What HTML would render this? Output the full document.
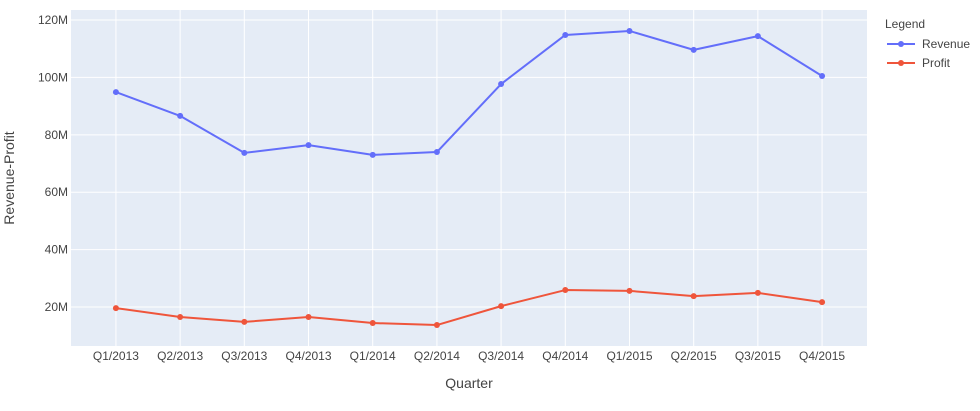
<!DOCTYPE html>
<html><head><meta charset="utf-8"><style>
body{margin:0;background:#fff;}
svg{font-family:"Liberation Sans",Arial,sans-serif;}
</style></head><body>
<svg id="chart" width="980" height="406"></svg>
<script>
const categories=["Q1/2013","Q2/2013","Q3/2013","Q4/2013","Q1/2014","Q2/2014","Q3/2014","Q4/2014","Q1/2015","Q2/2015","Q3/2015","Q4/2015"];
const revenue=[94.9,86.6,73.7,76.4,73.0,74.0,97.7,114.8,116.2,109.6,114.4,100.5];
const profit=[19.6,16.5,14.8,16.5,14.4,13.7,20.3,25.9,25.6,23.8,24.9,21.7];
const yTicks=[20,40,60,80,100,120];
const yTickLabels=["20M","40M","60M","80M","100M","120M"];

const NS="http://www.w3.org/2000/svg";
const svg=document.getElementById('chart');
const L=71,R=867,T=10,B=346;
const yMin=6.4,yMax=123.5;
function x(i){return L+(i+0.7)*(R-L)/(categories.length-1+1.4);}
function y(v){return B-(v-yMin)*(B-T)/(yMax-yMin);}
function el(tag,attrs,parent){const e=document.createElementNS(NS,tag);for(const k in attrs)e.setAttribute(k,attrs[k]);(parent||svg).appendChild(e);return e;}

const bg=el('rect',{x:L,y:T,width:R-L,height:B-T,fill:'#e5ecf6'});



yTicks.forEach((t,i)=>{
  const g=el('line',{x1:L,x2:R,y1:y(t),y2:y(t),stroke:'#fff','stroke-width':1});
  
  
  const tx=el('text',{x:L-3,y:y(t)+4,'text-anchor':'end','font-size':12,fill:'#444'});
  tx.textContent=yTickLabels[i];
  
  
});
categories.forEach((c,i)=>{
  const g=el('line',{x1:x(i),x2:x(i),y1:T,y2:B,stroke:'#fff','stroke-width':1});
  
  
  const tx=el('text',{x:x(i),y:B+14,'text-anchor':'middle','font-size':12,fill:'#444'});
  tx.textContent=c;
  
  
});

function series(vals,color,name){
  const pts=vals.map((v,i)=>x(i)+','+y(v)).join(' ');
  const pl=el('polyline',{points:pts,fill:'none',stroke:color,'stroke-width':2,'stroke-linejoin':'round'});
  
  
  vals.forEach((v,i)=>{
    const c=el('circle',{cx:x(i),cy:y(v),r:3,fill:color});
    
    
  });
}
series(revenue,'#636efa','revenue');
series(profit,'#ef553b','profit');

const xt=el('text',{x:(L+R)/2,y:388,'text-anchor':'middle','font-size':14,fill:'#444'});
xt.textContent='Quarter';


const yt=el('text',{x:0,y:0,'text-anchor':'middle','font-size':14,fill:'#444',transform:'translate(14,178) rotate(-90)'});
yt.textContent='Revenue-Profit';



const lt=el('text',{x:885,y:28,'font-size':12,fill:'#444'});
lt.textContent='Legend';


[['Revenue','#636efa',44],['Profit','#ef553b',63]].forEach(([n,c,yy])=>{
  const g=el('g',{});
  
  
  el('line',{x1:887,x2:915,y1:yy,y2:yy,stroke:c,'stroke-width':2},g);
  el('circle',{cx:901,cy:yy,r:3,fill:c},g);
  const t=el('text',{x:922,y:yy+4,'font-size':12,fill:'#444'},g);
  t.textContent=n;
});
</script>
</body></html>
